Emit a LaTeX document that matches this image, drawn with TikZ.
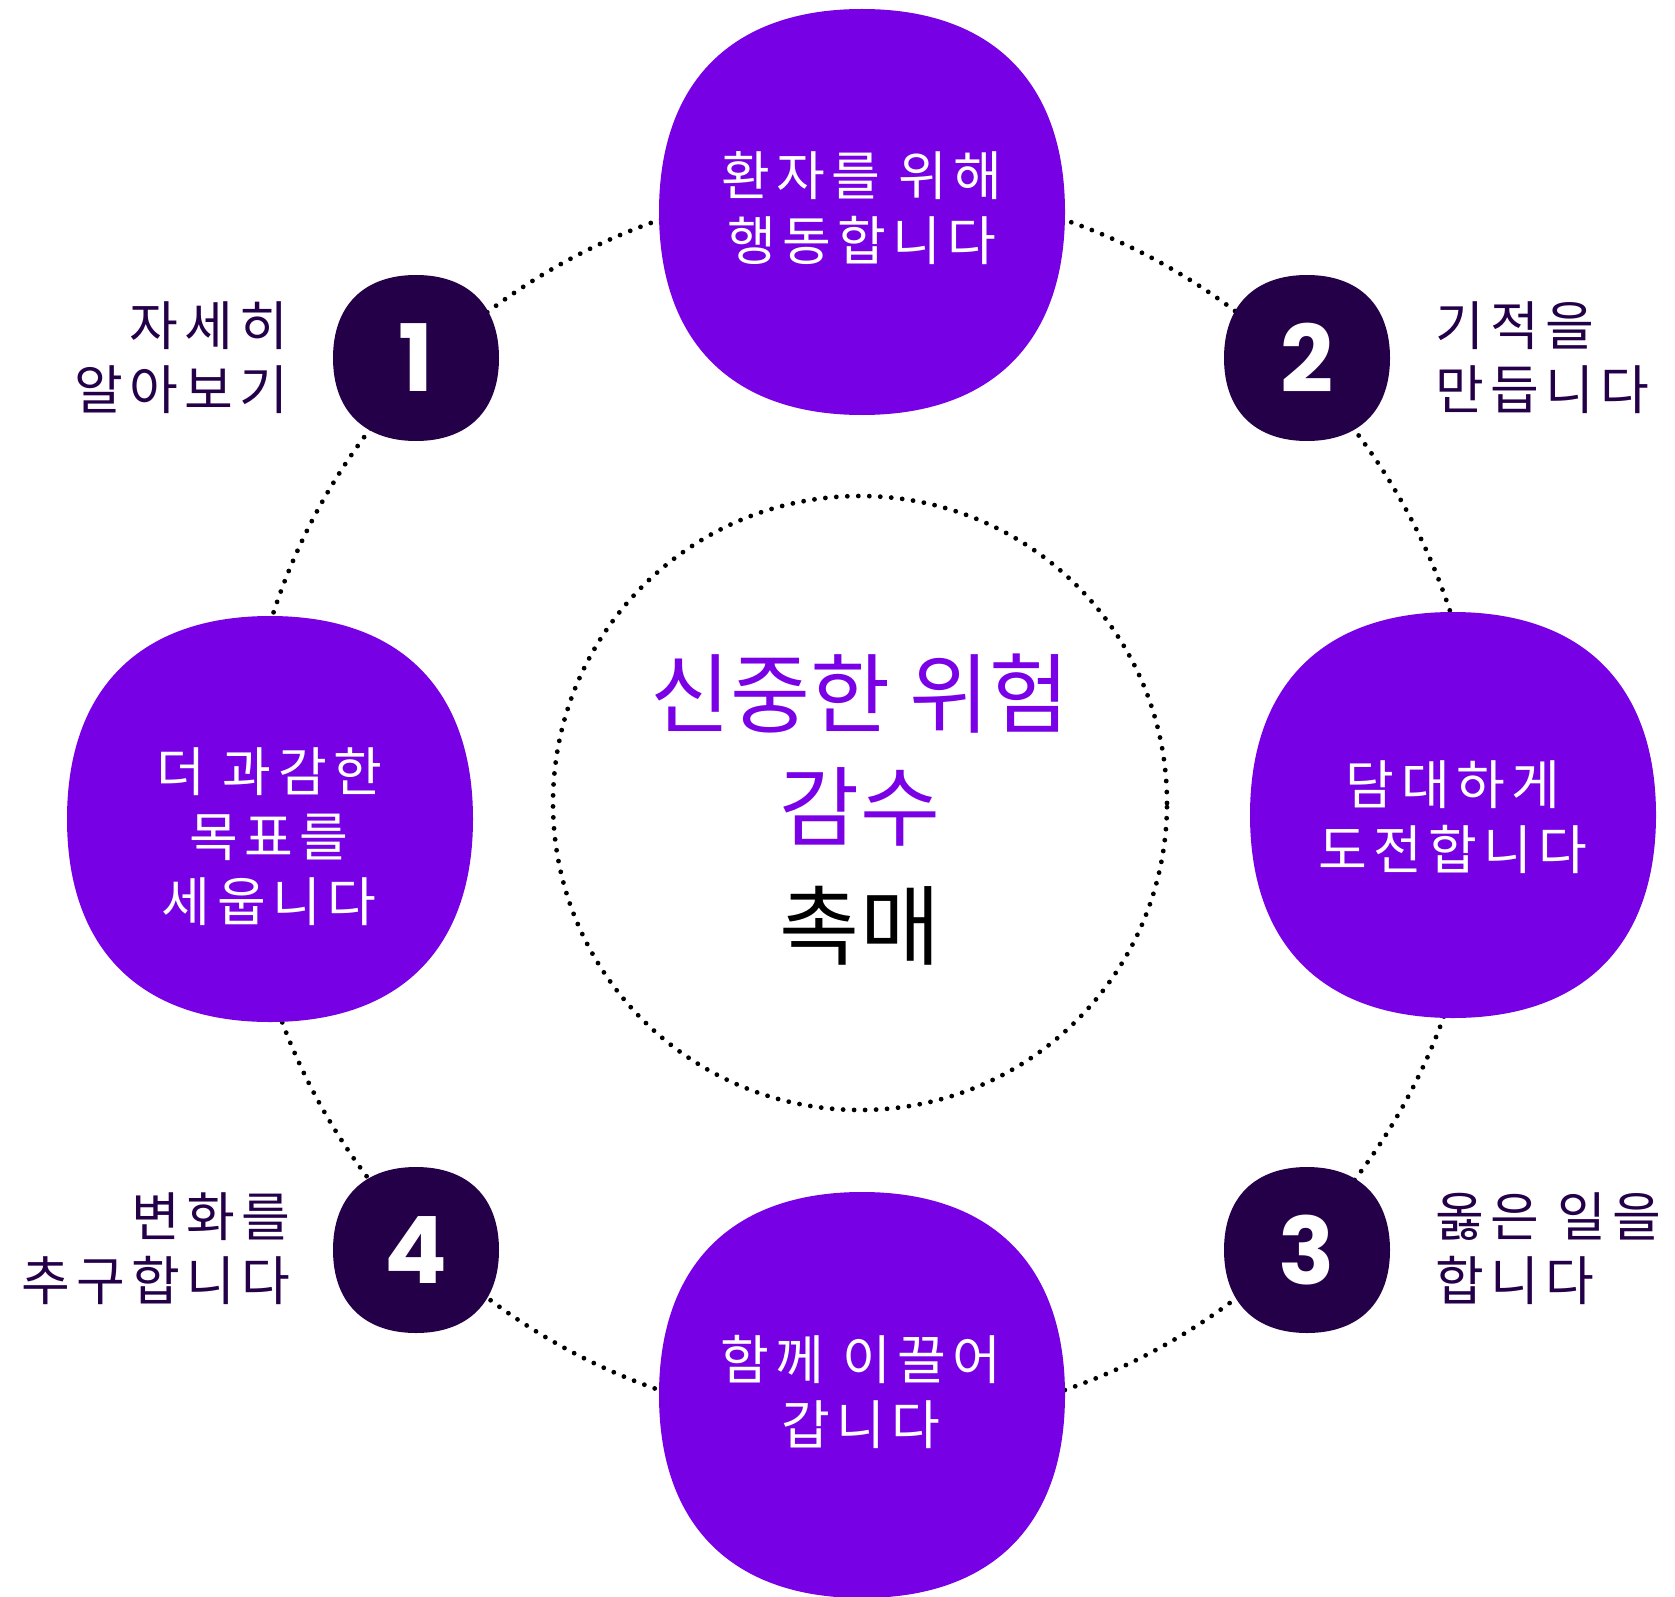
\documentclass[tikz,border=0pt]{standalone}
\usepackage{fontspec}
\newfontfamily\krfont{Noto Sans CJK KR}[LetterSpace=12]
\newfontfamily\krplain{Noto Sans CJK KR}
\newfontfamily\numfont{Poppins}
\definecolor{blobpurple}{RGB}{120,0,228}
\definecolor{titlepurple}{RGB}{122,0,230}
\definecolor{darkpurple}{RGB}{36,0,72}
\tikzset{
  pics/squircle/.style n args={3}{code={
    \fill[#3] (#1,0) .. controls (#1,{#2*#1}) and ({#2*#1},#1) .. (0,#1)
      .. controls ({-#2*#1},#1) and (-#1,{#2*#1}) .. (-#1,0)
      .. controls (-#1,{-#2*#1}) and ({-#2*#1},-#1) .. (0,-#1)
      .. controls ({#2*#1},-#1) and (#1,{-#2*#1}) .. (#1,0) -- cycle;
  }},
  ring/.style={circle, draw=black, inner sep=0pt, line width=4.8pt, line cap=round, dash pattern=on 0pt off 11pt},
  blobtext/.style={text=white, align=center, font=\krfont\fontsize{53}{65}\selectfont},
  labeltext/.style={text=darkpurple, font=\krfont\fontsize{53}{64}\selectfont},
  numtext/.style={text=white, font=\numfont\bfseries\fontsize{93}{93}\selectfont},
  titletext/.style={font=\krplain\fontsize{87}{87}\selectfont},
}
\begin{document}
\begin{tikzpicture}[x=1pt,y=-1pt]
\useasboundingbox (0,0) rectangle (1675,1597);
% rings
\node[ring, minimum size=1238pt] (outer) at (862,805) {};
\node[ring, minimum size=614pt] (inner) at (860,803) {};
% blobs
\pic at (862,212) {squircle={203}{0.64}{blobpurple}};
\pic at (270,819) {squircle={203}{0.64}{blobpurple}};
\pic at (1453,815) {squircle={203}{0.64}{blobpurple}};
\pic at (862,1395) {squircle={203}{0.64}{blobpurple}};
% number squircles
\pic at (416,358) {squircle={83}{0.63}{darkpurple}};
\pic at (1307,358) {squircle={83}{0.63}{darkpurple}};
\pic at (1307,1250) {squircle={83}{0.63}{darkpurple}};
\pic at (416,1250) {squircle={83}{0.63}{darkpurple}};
% blob texts
\node[blobtext] (ttop) at (862,208) {환자를 위해\\행동합니다};
\node[blobtext] (tleft) at (269,837) {더 과감한\\목표를\\세웁니다};
\node[blobtext] (tright) at (1453,817) {담대하게\\도전합니다};
\node[blobtext] (tbottom) at (861,1392) {함께 이끌어\\갑니다};
% numbers
\node[numtext] (n1) at (416,358) {1};
\node[numtext] (n2) at (1307,358) {2};
\node[numtext] (n3) at (1307,1250) {3};
\node[numtext] (n4) at (416,1250) {4};
% labels
\node[labeltext, anchor=east, align=right] (l1) at (292,358) {자세히\\알아보기};
\node[labeltext, anchor=west, align=left] (l2) at (1432,358) {기적을\\만듭니다};
\node[labeltext, anchor=west, align=left] (l3) at (1432,1249) {옳은 일을\\합니다};
\node[labeltext, anchor=east, align=right] (l4) at (294,1249) {변화를\\추구합니다};
% centre
\node[titletext, text=titlepurple] (c1) at (860,694) {신중한 위험};
\node[titletext, text=titlepurple] (c2) at (860,807) {감수};
\node[titletext, text=black] (c3) at (860,926) {촉매};
\end{tikzpicture}
\end{document}
